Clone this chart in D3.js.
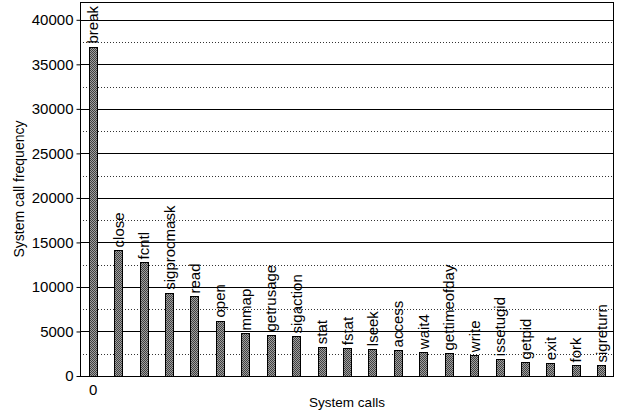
<!DOCTYPE html>
<html>
<head>
<meta charset="utf-8">
<script src="https://cdn.jsdelivr.net/npm/d3@7"></script>
<style>
  html, body { margin: 0; padding: 0; background: #fff; }
  svg { display: block; font-family: "Liberation Sans", Arial, Helvetica, sans-serif; }
</style>
</head>
<body>
<svg id="chart" width="623" height="415"></svg>
<script>
const categories = ["break","close","fcntl","sigprocmask","read","open","mmap","getrusage","sigaction","stat","fstat","lseek","access","wait4","gettimeofday","write","issetugid","getpid","exit","fork","sigreturn"];
const frequencies = [37000,14100,12750,9350,8930,6230,4780,4660,4440,3240,3120,3010,2870,2680,2530,2340,1890,1520,1440,1180,1180];
const yTicks = [0,5000,10000,15000,20000,25000,30000,35000,40000];
const yMinorTicks = [2500,7500,12500,17500,22500,27500,32500,37500];
const xTicks = [0];
const xTitle = "System calls";
const yTitle = "System call frequency";

(function () {
const svg = d3.select("#chart");
const mL = 80, mR = 614, mT = 2, mB = 376;

const x = d3.scaleLinear().domain([-0.5, categories.length - 0.5]).range([mL, mR]);
const y = d3.scaleLinear().domain([0, 42000]).range([mB, mT]);
const barW = (x(1) - x(0)) * 0.31;

// pattern
const defs = svg.append("defs");
const pat = defs.append("pattern").attr("id", "chk").attr("patternUnits", "userSpaceOnUse")
  .attr("width", 2).attr("height", 2);
pat.append("rect").attr("width", 2).attr("height", 2).attr("fill", "#a0a0a0");
pat.append("rect").attr("width", 1).attr("height", 1).attr("fill", "#404040");
pat.append("rect").attr("x", 1).attr("y", 1).attr("width", 1).attr("height", 1).attr("fill", "#404040");

// gridlines
svg.append("g").selectAll("line").data(yMinorTicks).join("line")
  .attr("x1", mL).attr("x2", mR)
  .attr("y1", d => Math.round(y(d)) + 0.5).attr("y2", d => Math.round(y(d)) + 0.5)
  .attr("stroke", "#333").attr("stroke-width", 1).attr("stroke-dasharray", "1,2");
svg.append("g").selectAll("line").data(yTicks.filter(d => d > 0)).join("line")
  .attr("x1", mL).attr("x2", mR)
  .attr("y1", d => Math.round(y(d)) + 0.5).attr("y2", d => Math.round(y(d)) + 0.5)
  .attr("stroke", "#000").attr("stroke-width", 1);

// bars
svg.append("g").selectAll("rect").data(frequencies).join("rect")
  .attr("x", (d, i) => Math.round(x(i) - barW / 2) + 0.5)
  .attr("y", d => Math.round(y(d)) + 0.5)
  .attr("width", Math.round(barW))
  .attr("height", d => Math.round(y(0)) - Math.round(y(d)))
  .attr("fill", "url(#chk)")
  .attr("stroke", "#000").attr("stroke-width", 1);

// bar labels
svg.append("g").selectAll("text").data(frequencies).join("text")
  .attr("transform", (d, i) => `translate(${x(i) + 5.5},${y(d) - 3}) rotate(-90)`)
  .attr("font-size", 15).attr("fill", "#000")
  .text((d, i) => categories[i]);

// frame
svg.append("rect").attr("x", mL + 0.5).attr("y", mT + 0.5)
  .attr("width", mR - mL - 1).attr("height", mB - mT)
  .attr("fill", "none").attr("stroke", "#000").attr("stroke-width", 1);

// y axis
const yAxis = d3.axisLeft(y).tickValues(yTicks).tickSize(4).tickPadding(3).tickFormat(d3.format("d"));
const gy = svg.append("g").attr("transform", `translate(${mL + 0.5},0)`).call(yAxis);
gy.select(".domain").remove();
gy.selectAll(".tick line").attr("stroke", "#000");
gy.selectAll(".tick text").attr("font-size", 15).attr("font-family", "Liberation Sans, Arial, sans-serif").attr("fill", "#000");

// x axis
const xAxis = d3.axisBottom(x).tickValues(xTicks).tickSize(0).tickPadding(8).tickFormat(d3.format("d"));
const gx = svg.append("g").attr("transform", `translate(0,${mB + 0.5})`).call(xAxis);
gx.select(".domain").remove();
gx.selectAll(".tick text").attr("font-size", 15).attr("font-family", "Liberation Sans, Arial, sans-serif").attr("fill", "#000");

// titles
svg.append("text").attr("x", (mL + mR) / 2).attr("y", 407)
  .attr("text-anchor", "middle").attr("font-size", 13.5).text(xTitle);
svg.append("text").attr("transform", `translate(24,${(mT + mB) / 2}) rotate(-90)`)
  .attr("text-anchor", "middle").attr("font-size", 14).text(yTitle);
})();
</script>
</body>
</html>
